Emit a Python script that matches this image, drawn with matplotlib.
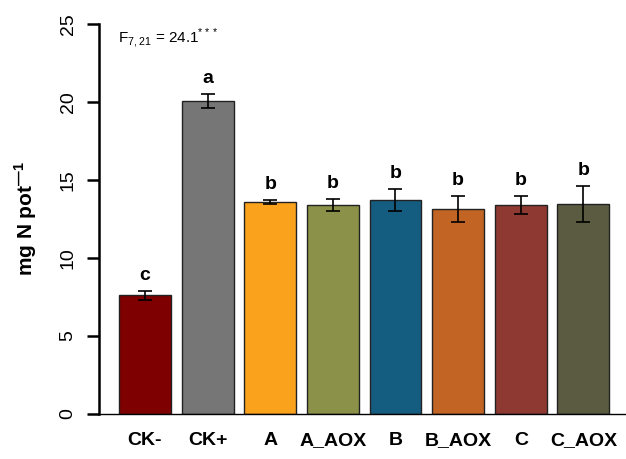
import matplotlib
matplotlib.use('Agg')
import matplotlib.pyplot as plt
import numpy as np

# data
groups = ['CK-', 'CK+', 'A', 'A_AOX', 'B', 'B_AOX', 'C', 'C_AOX']
means = [7.6, 20.05, 13.6, 13.4, 13.7, 13.15, 13.4, 13.45]
errors = [0.3, 0.43, 0.12, 0.37, 0.72, 0.85, 0.6, 1.15]
letters = ['c', 'a', 'b', 'b', 'b', 'b', 'b', 'b']
colors = ['#7f0000', '#767676', '#fba21d', '#8b9148',
          '#155d80', '#c26423', '#8f3933', '#5a5b40']

plt.rcParams['font.family'] = ['Liberation Sans', 'DejaVu Sans']
plt.rcParams['mathtext.fontset'] = 'custom'
plt.rcParams['mathtext.rm'] = 'Liberation Sans'
plt.rcParams['mathtext.bf'] = 'Liberation Sans:bold'

fig = plt.figure(figsize=(6.26, 4.59), dpi=100)
ax = fig.add_axes([0.158, 0.098, 0.842, 0.850])

x = np.arange(len(groups))
ax.bar(x, means, width=0.83, color=colors, edgecolor='#222222', linewidth=1.0, zorder=2)
ax.errorbar(x, means, yerr=errors, fmt='none', ecolor='black', elinewidth=1.2,
            capsize=5, capthick=1.2, zorder=3)

for xi, m, e, lab in zip(x, means, errors, letters):
    ax.text(xi, m + e + 0.45, lab, ha='center', va='bottom', fontsize=14, fontweight='bold')

ax.text(0.3 / 8.4, 0.962, r'F$_{\mathrm{7,21}}$ = 24.1$^{\mathrm{***}}$', transform=ax.transAxes,
        ha='left', va='center', fontsize=11)

ax.set_xlim(-0.735, 7.68)
ax.set_ylim(0, 25)
ax.set_yticks([0, 5, 10, 15, 20, 25])
ax.set_xticks(x)
ax.set_xticklabels(groups, fontsize=14, fontweight='bold')
ax.tick_params(axis='x', length=0, pad=13)
ax.tick_params(axis='y', length=9, width=1.8, labelsize=14, pad=7)
for lab in ax.get_yticklabels():
    lab.set_rotation(90)
    lab.set_va('center')

ax.spines['top'].set_visible(False)
ax.spines['right'].set_visible(False)
ax.spines['left'].set_linewidth(1.8)
ax.spines['bottom'].set_linewidth(1.0)

ax.set_ylabel('mg N pot$^{\\mathbf{\u2014}\\mathbf{1}}$', fontsize=15, fontweight='bold', labelpad=15)

fig.savefig('out.png', dpi=100)
